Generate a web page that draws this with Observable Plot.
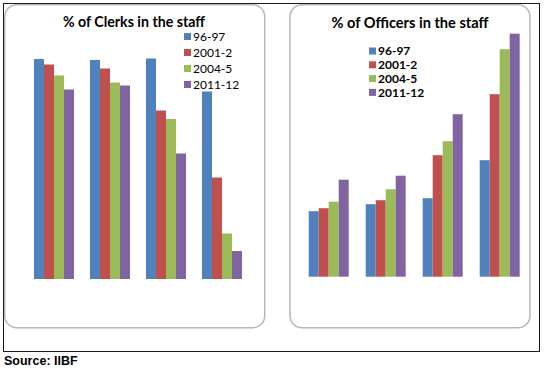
<!DOCTYPE html>
<html><head><meta charset="utf-8">
<script src="https://cdn.jsdelivr.net/npm/d3@7"></script>
<script src="https://cdn.jsdelivr.net/npm/@observablehq/plot@0.6"></script>
<style>
body{margin:0;background:#fff;}
#wrap{position:relative;width:544px;height:370px;overflow:hidden;background:#fff;}
#wrap svg{position:absolute;top:0;}
</style>
</head><body>
<div id="wrap"></div>
<script>
// ---- data ----
const groups = ["Group 1", "Group 2", "Group 3", "Group 4"];
const series = ["96-97", "2001-2", "2004-5", "2011-12"];
const colors = ["#4F81BD", "#C0504D", "#9BBB59", "#8064A2"];

const clerks96 = [44.0, 43.8, 44.1, 37.5];
const clerks01 = [42.9, 42.1, 33.7, 20.3];
const clerks04 = [40.7, 39.3, 32.0, 9.1];
const clerks11 = [37.9, 38.7, 25.1, 5.6];

const officers96 = [13.1, 14.5, 15.7, 23.3];
const officers01 = [13.7, 15.3, 24.3, 36.5];
const officers04 = [15.0, 17.5, 27.1, 45.5];
const officers11 = [19.4, 20.2, 32.5, 48.6];

const titles = ["% of Clerks in the staff", "% of Officers in the staff"];
const sourceText = "Source: IIBF";

function toRows(lists) {
  const rows = [];
  groups.forEach((g, i) => series.forEach((s, j) => rows.push({group: g, series: s, value: lists[j][i]})));
  return rows;
}
const clerkRows = toRows([clerks96, clerks01, clerks04, clerks11]);
const officerRows = toRows([officers96, officers01, officers04, officers11]);

const wrap = document.getElementById("wrap");

// ---- background: frame and panels ----
const bg = d3.select(wrap).append("svg").attr("width", 544).attr("height", 370).style("left", "0px");
bg.append("rect").attr("x", 3.5).attr("y", 3.5).attr("width", 536).attr("height", 348)
  .attr("fill", "none").attr("stroke", "#1a1a1a").attr("stroke-width", 1);
bg.append("rect").attr("x", 4.75).attr("y", 4.75).attr("width", 260).attr("height", 323).attr("rx", 12)
  .attr("fill", "#fff").attr("stroke", "#b8b8b8").attr("stroke-width", 1.5);
bg.append("rect").attr("x", 290).attr("y", 4.75).attr("width", 240).attr("height", 323).attr("rx", 12)
  .attr("fill", "#fff").attr("stroke", "#b8b8b8").attr("stroke-width", 1.5);

// ---- plots ----
function makePlot(rows, o) {
  const p = Plot.plot({
    width: o.width, height: o.height,
    marginLeft: o.ml, marginRight: o.mr, marginTop: o.mt, marginBottom: o.mb,
    style: {background: "transparent", overflow: "visible"},
    facet: {data: rows, x: "group"},
    fx: {domain: groups, paddingInner: 0.27, paddingOuter: 0, axis: null, label: null},
    x: {domain: series, padding: 0, axis: null},
    y: {domain: [0, 50], axis: null},
    color: {domain: series, range: colors},
    marks: [Plot.barY(rows, {x: "series", y: "value", fill: "series"})]
  });
  p.style.position = "absolute";
  p.style.left = o.left + "px";
  p.style.top = "0px";
  wrap.appendChild(p);
  return p;
}
const p1 = makePlot(clerkRows, {left: 0, width: 280, height: 330, ml: 33, mr: 38, mt: 29, mb: 51});
const p2 = makePlot(officerRows, {left: 280, width: 264, height: 330, ml: 28.3, mr: 23, mt: 26.7, mb: 53.3});
const colorScale = p1.scale("color");

// ---- text overlay ----
const fg = d3.select(wrap).append("svg").attr("width", 544).attr("height", 370).style("left", "0px");
fg.append("text").attr("x", 134).attr("y", 27).attr("text-anchor", "middle")
  .attr("font-family", "Lato, sans-serif").attr("font-weight", "bold").attr("font-size", 14.2).text(titles[0]);
fg.append("text").attr("x", 410).attr("y", 27.5).attr("text-anchor", "middle")
  .attr("font-family", "Lato, sans-serif").attr("font-weight", "bold").attr("font-size", 14.6).text(titles[1]);

function legend(x, y0, step, weight) {
  series.forEach((s, i) => {
    const cy = y0 + i * step;
    fg.append("rect").attr("x", x).attr("y", cy - 3.5).attr("width", 7).attr("height", 7)
      .attr("fill", colorScale.range[colorScale.domain.indexOf(s)]);
    fg.append("text").attr("x", x + 9).attr("y", cy + 4.2)
      .attr("font-family", "Lato, sans-serif").attr("font-weight", weight).attr("font-size", 12).text(s);
  });
}
legend(184, 36.5, 16, "normal");
legend(369, 51, 13.8, "bold");

fg.append("text").attr("x", 4).attr("y", 365)
  .attr("font-family", "'Liberation Sans', Arial, sans-serif").attr("font-weight", "bold").attr("font-size", 12.5).text(sourceText);
</script>
</body></html>
